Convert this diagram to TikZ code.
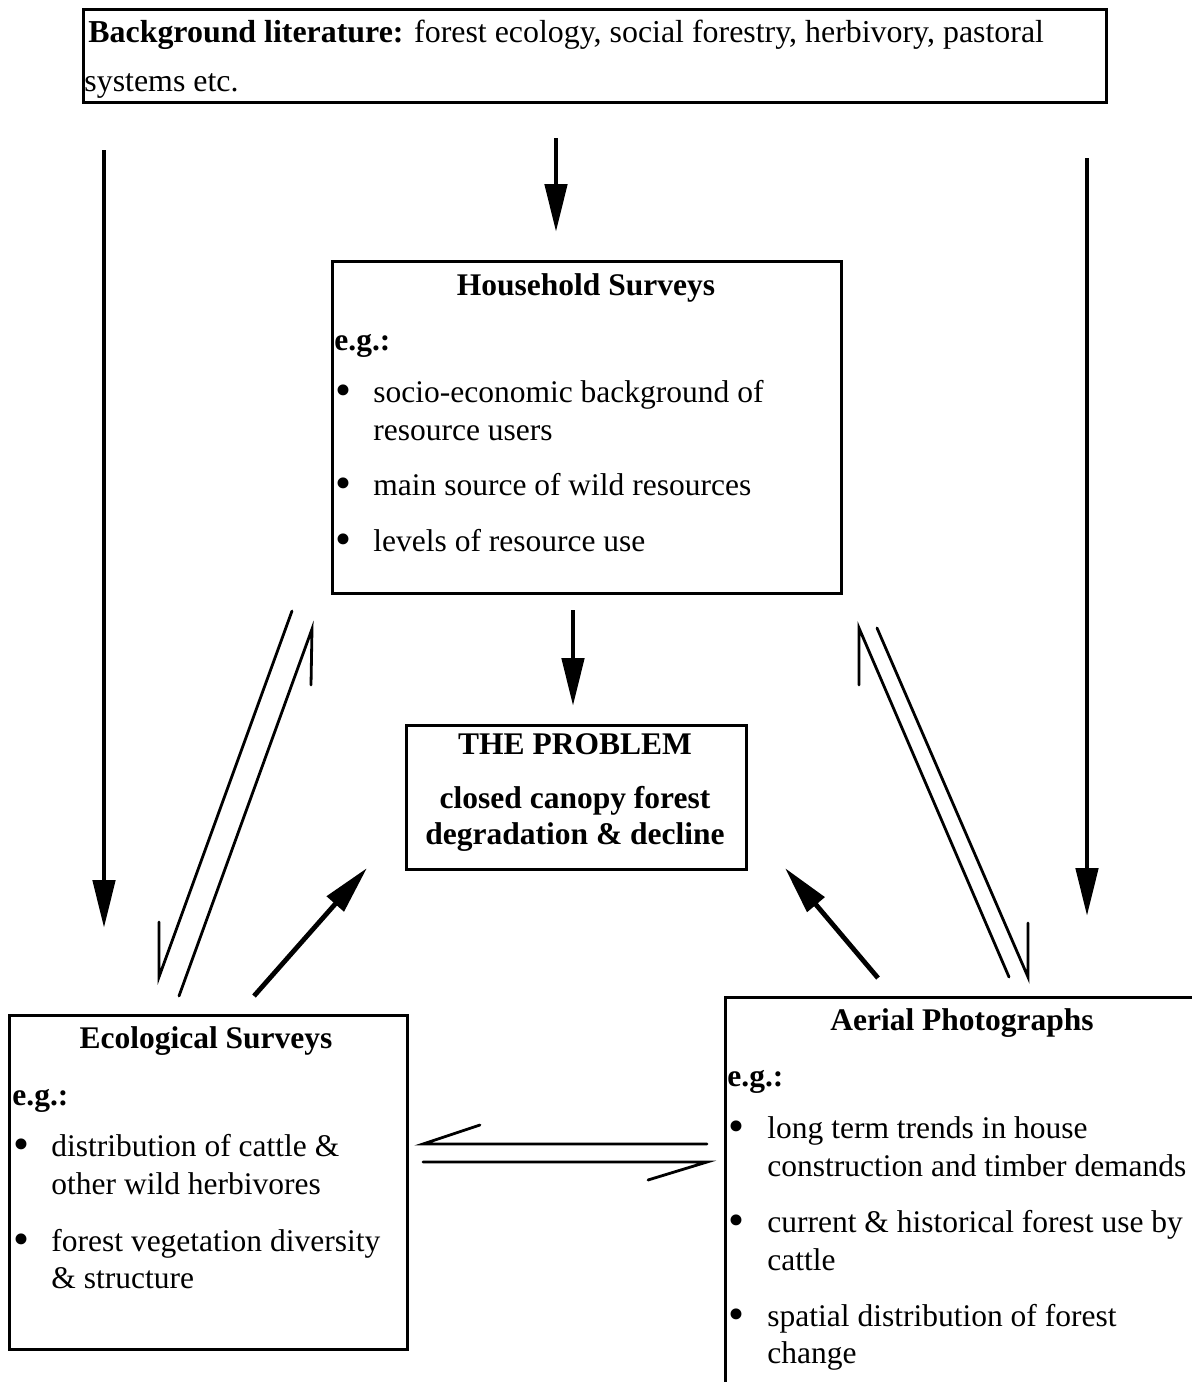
\documentclass[tikz,border=0pt]{standalone}
\usepackage{fontspec}
\usepackage{graphicx}
\setmainfont{Liberation Serif}
\usetikzlibrary{arrows.meta}
\newcommand{\bigdot}{\raisebox{-1.6pt}{\scalebox{1.45}{•}}}
\begin{document}
\begin{tikzpicture}[x=0.5pt,y=-0.5pt,
  box/.style={draw, line width=1.3pt, inner sep=0pt, anchor=north west},
  txt/.style={anchor=base west, inner sep=0pt, font=\fontsize{15.75}{19}\selectfont},
  bgtxt/.style={anchor=base west, inner sep=0pt, font=\fontsize{15.95}{19}\selectfont},
  egtxt/.style={txt, font=\fontsize{15.75}{19}\selectfont\bfseries},
  ttl/.style={anchor=base, inner sep=0pt, font=\fontsize{15.75}{19}\selectfont\bfseries},
  bul/.style={anchor=base, inner sep=0pt, font=\fontsize{15.75}{19}\selectfont},
  flow/.style={line width=2.4pt, -{Triangle[length=24pt,width=11pt]}},
  half/.style={line width=1.4pt, line cap=round, line join=miter},
]
\useasboundingbox (0,0) rectangle (1192,1382);
\clip (0,0) rectangle (1192,1382);

% ---- boxes ----
\node[box, minimum width=511.5pt, minimum height=46.5pt] (bg) at (82,8) {};
\node[box, minimum width=254.5pt, minimum height=166pt] (hh) at (331,260) {};
\node[box, minimum width=170pt, minimum height=72pt] (pb) at (405,724) {};
\node[box, minimum width=199pt, minimum height=167pt] (eco) at (8,1014) {};
\node[box, minimum width=250pt, minimum height=210pt] (aer) at (724,996) {};

% ---- background literature ----
\node[bgtxt] (bg1) at (88,42) {\textbf{Background literature:} forest ecology, social forestry, herbivory, pastoral};
\node[bgtxt] (bg2) at (84,91) {systems etc.};

% ---- household surveys ----
\node[ttl] (hht) at (586,295) {Household Surveys};
\node[egtxt] (hheg) at (334,350) {e.g.:};
\node[bul] (hhb1) at (343,402) {\bigdot};
\node[txt] (hh1a) at (373,402) {socio-economic background of};
\node[txt] (hh1b) at (373,440) {resource users};
\node[bul] (hhb2) at (343,495) {\bigdot};
\node[txt] (hh2) at (373,495) {main source of wild resources};
\node[bul] (hhb3) at (343,551) {\bigdot};
\node[txt] (hh3) at (373,551) {levels of resource use};

% ---- the problem ----
\node[ttl] (pbt) at (575,754) {THE PROBLEM};
\node[ttl] (pb1) at (575,808) {closed canopy forest};
\node[ttl] (pb2) at (575,844) {degradation \& decline};

% ---- ecological surveys ----
\node[ttl] (ecot) at (206,1048) {Ecological Surveys};
\node[egtxt] (ecoeg) at (12,1105) {e.g.:};
\node[bul] (ecob1) at (21,1156) {\bigdot};
\node[txt] (eco1a) at (51,1156) {distribution of cattle \&};
\node[txt] (eco1b) at (51,1194) {other wild herbivores};
\node[bul] (ecob2) at (21,1251) {\bigdot};
\node[txt] (eco2a) at (51,1251) {forest vegetation diversity};
\node[txt] (eco2b) at (51,1288) {\& structure};

% ---- aerial photographs ----
\node[ttl] (aert) at (962,1030) {Aerial Photographs};
\node[egtxt] (aereg) at (727,1086) {e.g.:};
\node[bul] (aerb1) at (736,1138) {\bigdot};
\node[txt] (aer1a) at (767,1138) {long term trends in house};
\node[txt] (aer1b) at (767,1176) {construction and timber demands};
\node[bul] (aerb2) at (736,1232) {\bigdot};
\node[txt] (aer2a) at (767,1232) {current \& historical forest use by};
\node[txt] (aer2b) at (767,1270) {cattle};
\node[bul] (aerb3) at (736,1326) {\bigdot};
\node[txt] (aer3a) at (767,1326) {spatial distribution of forest};
\node[txt] (aer3b) at (767,1363) {change};

% ---- connector end points ----
\coordinate (lS) at (104,150);  \coordinate (lE) at (104,928);
\coordinate (cS) at (556,138);  \coordinate (cE) at (556,232);
\coordinate (rS) at (1087,158); \coordinate (rE) at (1087,916);
\coordinate (hS) at (573,610);  \coordinate (hE) at (573,706);
\coordinate (eS) at (254,996);  \coordinate (eE) at (367,868);
\coordinate (aS) at (878,978);  \coordinate (aE) at (785,868);

% half-arrow pairs: start, tip, barb
\coordinate (p1s) at (292,611);  \coordinate (p1t) at (159,977);  \coordinate (p1b) at (159,922);
\coordinate (p2s) at (179,996);  \coordinate (p2t) at (312,629);  \coordinate (p2b) at (311,685);
\coordinate (p3s) at (1009,977); \coordinate (p3t) at (859,628);  \coordinate (p3b) at (859,685);
\coordinate (p4s) at (877,628);  \coordinate (p4t) at (1028,977); \coordinate (p4b) at (1028,923);
\coordinate (p5s) at (707,1144); \coordinate (p5t) at (423,1144); \coordinate (p5b) at (480,1125);
\coordinate (p6s) at (423,1162); \coordinate (p6t) at (707,1162); \coordinate (p6b) at (648,1180);

% ---- solid arrows ----
\draw[flow] (lS) -- (lE);
\draw[flow] (cS) -- (cE);
\draw[flow] (rS) -- (rE);
\draw[flow] (hS) -- (hE);
\draw[flow] (eS) -- (eE);
\draw[flow] (aS) -- (aE);

% ---- half-headed exchange arrows ----
\draw[half] (p1s) -- (p1t) -- (p1b);
\draw[half] (p2s) -- (p2t) -- (p2b);
\draw[half] (p3s) -- (p3t) -- (p3b);
\draw[half] (p4s) -- (p4t) -- (p4b);
\draw[half] (p5s) -- (p5t) -- (p5b);
\draw[half] (p6s) -- (p6t) -- (p6b);
\end{tikzpicture}
\end{document}
